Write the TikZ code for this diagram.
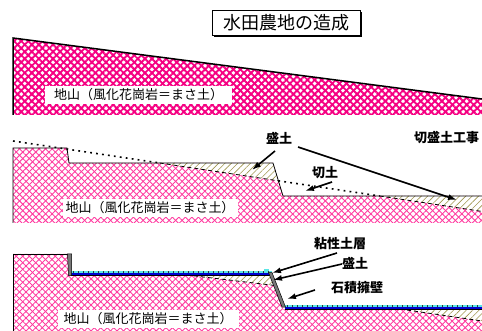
\documentclass[tikz,border=0pt]{standalone}
\usepackage{fontspec}
\newfontfamily\jp{Noto Sans CJK JP}
\usetikzlibrary{patterns.meta,arrows.meta}

\definecolor{mag}{RGB}{245,0,130}
\definecolor{pinkh}{RGB}{255,60,160}
\definecolor{khaki}{RGB}{160,150,80}
\definecolor{clay}{RGB}{0,0,210}
\definecolor{water}{RGB}{90,230,230}
\definecolor{wallgray}{RGB}{120,120,120}

\begin{document}
\begin{tikzpicture}[x=1pt,y=-1pt,
  rock/.style={preaction={pattern={Lines[angle=45,distance=5pt,line width=1.9pt]},pattern color=mag},
               pattern={Lines[angle=-45,distance=5pt,line width=1.9pt]},pattern color=mag},
  soil/.style={preaction={pattern={Lines[angle=45,distance=4.6pt,line width=0.9pt]},pattern color=pinkh},
               pattern={Lines[angle=-45,distance=4.6pt,line width=0.9pt]},pattern color=pinkh},
  embank/.style={fill=white,postaction={pattern={Lines[angle=45,distance=4.5pt,line width=0.6pt]},pattern color=khaki}},
  oldground/.style={line width=1.6pt,dash pattern=on 1.8pt off 4.2pt},
  buried/.style={line width=0.8pt,dash pattern=on 4pt off 3pt},
  profile/.style={line width=0.8pt},
  groundlbl/.style={font=\jp\fontsize{13}{13}\selectfont,fill=white,inner ysep=3pt},
  tag/.style={font=\jp\bfseries\fontsize{13}{13}\selectfont,inner sep=0pt},
  arr/.style={line width=1.6pt,-{Latex[length=9pt,width=6pt]}},
  ticks/.style={line width=2pt,dash pattern=on 0.7pt off 4.3pt,black!80}
]
\useasboundingbox (0,0) rectangle (482,331);

% ---------- title ----------
\fill (214,12) rectangle (362,37);
\node[draw,fill=white,line width=0.8pt,minimum width=148pt,minimum height=25pt,inner sep=0pt,
      font=\jp\fontsize{18}{18}\selectfont] (title) at (286,22.5) {水田農地の造成};

% ---------- stage 1: natural slope ----------
\path[rock] (13,38) -- (482,99) -- (482,115) -- (13,115) -- cycle;
\draw[line width=1.5pt] (13,115) -- (13,38) -- (482,99);
\node[groundlbl,inner xsep=9pt] (g1) at (138.5,95) {地山（風化花崗岩＝まさ土）};

% ---------- stage 2: cut and fill ----------
\path[soil] (13,148) -- (67,148) -- (69,163) -- (273,163) -- (283,196) -- (482,196)
            -- (482,223) -- (13,223) -- cycle;
\path[embank] (159.7,163) -- (273,163) -- (278.3,180.8) -- cycle;
\path[embank] (379.7,196) -- (482,196) -- (482,211.4) -- cycle;
\draw[oldground] (13,141) -- (159.7,163);
\draw[buried] (159.7,163) -- (278.3,180.8);
\draw[oldground] (278.3,180.8) -- (379.7,196);
\draw[buried] (379.7,196) -- (482,211.4);
\draw[profile] (13,223) -- (13,148) -- (67,148) -- (69,163) -- (273,163) -- (283,196) -- (482,196);
\node[groundlbl,inner xsep=3pt] (g2) at (150,208) {地山（風化花崗岩＝まさ土）};

\node[tag] (fill2) at (279,138) {盛土};
\node[tag,anchor=west] (work) at (414,138) {切盛土工事};
\node[tag] (cut2) at (325,173) {切土};
\coordinate (f2a) at (275,151);
\coordinate (f2ah) at (252,170);
\coordinate (f2b) at (298,147);
\coordinate (f2bh) at (457,200);
\coordinate (c2) at (332,182);
\coordinate (c2h) at (305,191);
\draw[arr] (f2a) -- (f2ah);
\draw[arr] (f2b) -- (f2bh);
\draw[arr] (c2) -- (c2h);

% ---------- stage 3: finished paddy terraces ----------
\path[soil] (13,254) -- (68,254) -- (70,275) -- (270,275) -- (283,309) -- (482,309)
            -- (482,331) -- (13,331) -- cycle;
\path[embank] (187,275) -- (271,275) -- (275,285.5) -- cycle;
\path[embank] (400,309) -- (482,309) -- (482,321) -- cycle;
\draw[buried] (187,275) -- (275,285.5);
\draw[buried] (400,309) -- (482,321);
\draw[profile] (13,331) -- (13,254) -- (68,254);
% upper paddy: clay layer
\fill[water] (71,270.5) rectangle (272,272.5);
\fill[water] (264,268.5) rectangle (269,270.5);
\draw[ticks] (73,271.5) -- (270,271.5);
\fill[clay] (71,272.5) rectangle (272,275.3);
\draw[line width=0.5pt] (71,275.5) -- (270,275.5);
% lower paddy: clay layer
\fill[water] (285,304.5) rectangle (482,306.5);
\draw[ticks] (287,305.5) -- (482,305.5);
\fill[clay] (285,306.5) rectangle (482,309.3);
\draw[line width=0.5pt] (285,309.5) -- (482,309.5);
% stone walls
\filldraw[fill=wallgray,draw=black,line width=0.5pt] (67.5,254) -- (71.5,254) -- (71.5,275.5) -- (68.5,275.5) -- cycle;
\filldraw[fill=wallgray,draw=black,line width=0.5pt] (268.5,272.5) -- (272,272.5) -- (285.5,307) -- (282,307) -- cycle;
\node[groundlbl,inner xsep=6pt] (g3) at (148,319) {地山（風化花崗岩＝まさ土）};

\node[tag] (clayl) at (340,244) {粘性土層};
\node[tag] (fill3) at (355,263) {盛土};
\node[tag] (wall3) at (357,288) {石積擁壁};
\coordinate (k3) at (337,253);
\coordinate (k3h) at (272,273);
\coordinate (f3) at (342,264);
\coordinate (f3h) at (273,280);
\coordinate (w3) at (315,290);
\coordinate (w3h) at (287,299);
\draw[arr] (k3) -- (k3h);
\draw[arr] (f3) -- (f3h);
\draw[arr] (w3) -- (w3h);
\end{tikzpicture}
\end{document}
